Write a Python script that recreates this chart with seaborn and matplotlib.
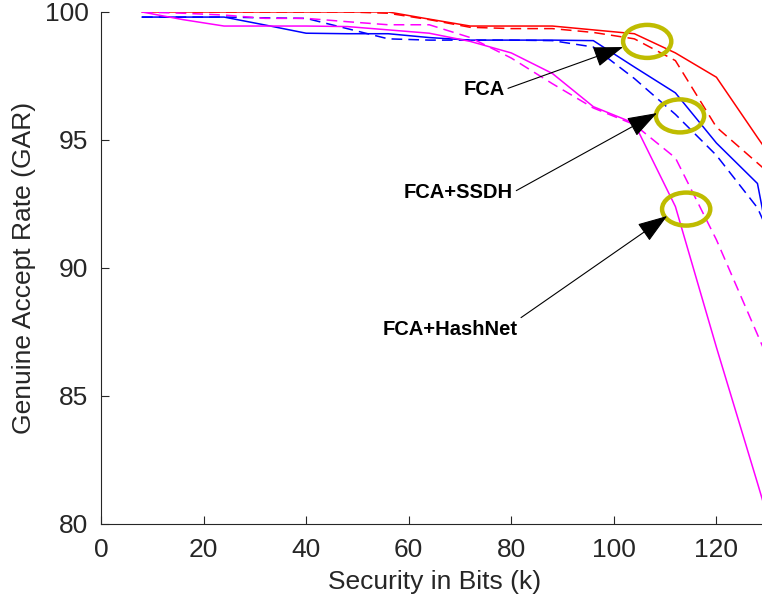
import numpy as np
import pandas as pd
import seaborn as sns
import matplotlib.pyplot as plt
from matplotlib.patches import Ellipse

# ---- Data ----
bits = [8, 16, 24, 32, 40, 48, 56, 64, 72, 80, 88, 96, 104, 112, 120, 128, 136]

fca_1 = [100, 100, 100, 100, 100, 100, 100, 99.72, 99.45, 99.45, 99.45, 99.3, 99.15, 98.4, 97.45, 95.1, 92.8]
fca_2 = [100, 100, 100, 100, 100, 100, 99.95, 99.7, 99.4, 99.35, 99.35, 99.2, 98.95, 98.1, 95.5, 94.1, 92.7]
ssdh_1 = [99.8, 99.8, 99.8, 99.49, 99.17, 99.15, 99.15, 99.0, 98.9, 98.9, 98.9, 98.88, 97.85, 96.84, 94.88, 93.3, 85.0]
ssdh_2 = [99.8, 99.8, 99.8, 99.77, 99.75, 99.35, 98.95, 98.9, 98.9, 98.9, 98.88, 98.63, 97.4, 96.0, 94.4, 92.35, 88.8]
hash_1 = [100, 99.7, 99.45, 99.45, 99.45, 99.43, 99.3, 99.17, 98.85, 98.4, 97.6, 96.3, 95.65, 92.4, 86.9, 81.6, 76.2]
hash_2 = [100, 99.95, 99.88, 99.75, 99.75, 99.62, 99.5, 99.5, 99.0, 98.2, 97.2, 96.25, 95.6, 94.3, 91.1, 87.4, 83.7]

methods = ['FCA', 'FCA+SSDH', 'FCA+HashNet']
settings = ['Setting 1', 'Setting 2']
series = {('FCA', 'Setting 1'): fca_1, ('FCA', 'Setting 2'): fca_2,
          ('FCA+SSDH', 'Setting 1'): ssdh_1, ('FCA+SSDH', 'Setting 2'): ssdh_2,
          ('FCA+HashNet', 'Setting 1'): hash_1, ('FCA+HashNet', 'Setting 2'): hash_2}

rows = []
for (m, s), vals in series.items():
    for k, v in zip(bits, vals):
        rows.append({'bits': k, 'GAR': v, 'method': m, 'setting': s})
df = pd.DataFrame(rows)

# annotation spots (text position, arrow tip, circle centre)
labels = ['FCA', 'FCA+SSDH', 'FCA+HashNet']
label_pos = [(74.7, 96.97), (69.7, 92.95), (68.1, 87.6)]
arrow_tip = [(101.8, 98.63), (108.4, 96.05), (110.4, 92.03)]
circle_c = [(106.5, 98.85), (112.9, 95.94), (114.1, 92.3)]

# ---- Plot ----
sns.set_style('ticks')
plt.rcParams['font.family'] = ['Liberation Sans', 'DejaVu Sans']

fig = plt.figure(figsize=(7.62, 6.04), dpi=100)
ax = fig.add_axes([0.1325, 0.1325, 0.875, 0.8477])

palette = {'FCA': '#ff0000', 'FCA+SSDH': '#0000ff', 'FCA+HashNet': '#ff00ff'}
sns.lineplot(data=df, x='bits', y='GAR', hue='method', style='setting',
             palette=palette, dashes={'Setting 1': '', 'Setting 2': (7, 4)},
             linewidth=1.1, legend=False, ax=ax, sort=False)

for c in circle_c:
    ax.add_patch(Ellipse(c, width=9.4, height=1.29, fill=False,
                         edgecolor='#bfbc00', linewidth=3.2, zorder=5))

relpos = [(1, 0.5), (1, 0.5), (1, 1)]
for lab, pos, tip, rp in zip(labels, label_pos, arrow_tip, relpos):
    ax.annotate(lab, xy=tip, xytext=pos, ha='center', va='center',
                fontsize=14.5, fontweight='bold', color='black', zorder=6,
                arrowprops=dict(arrowstyle='-|>,head_length=1.3,head_width=0.45',
                                color='black', lw=0.8, relpos=rp,
                                shrinkA=0, shrinkB=0))

ax.set_xlim(0, 130)
ax.set_ylim(80, 100)
ax.set_xticks(range(0, 121, 20))
ax.set_yticks([80, 85, 90, 95, 100])
ax.tick_params(direction='in', length=6, width=0.8, colors='#262626',
               labelsize=19)
ax.tick_params(axis='x', pad=10)
ax.tick_params(axis='y', pad=9)
for s in ['left', 'bottom']:
    ax.spines[s].set_color('#262626')
    ax.spines[s].set_linewidth(0.8)
sns.despine(ax=ax)
ax.set_xlabel('Security in Bits (k)', fontsize=19, color='#262626', labelpad=6)
ax.set_ylabel('Genuine Accept Rate (GAR)', fontsize=19, color='#262626', labelpad=6)

plt.savefig('out.png', dpi=100)
plt.close()
